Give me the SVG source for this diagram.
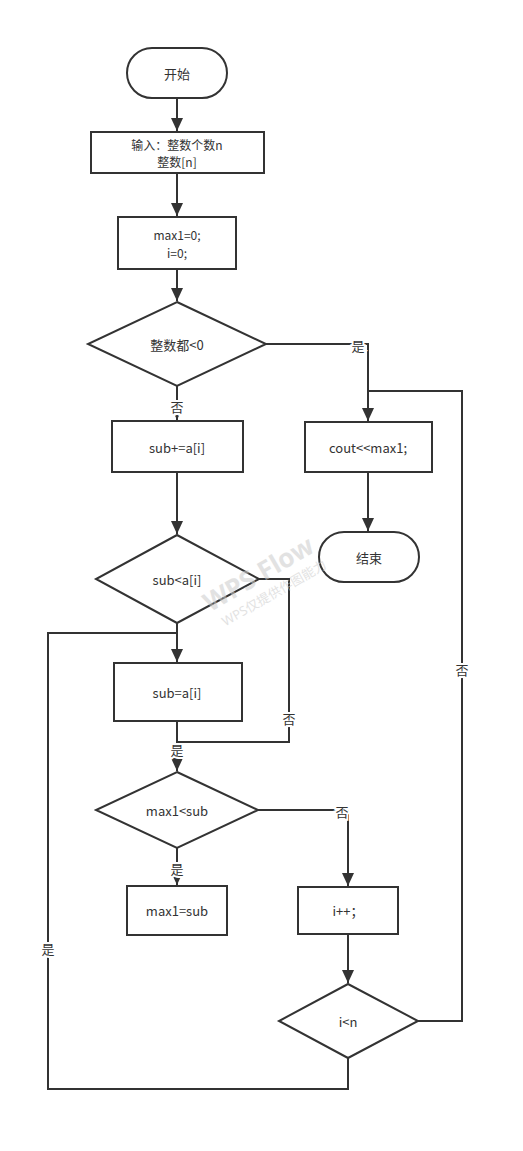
<svg xmlns="http://www.w3.org/2000/svg" width="523" height="1151" viewBox="0 0 523 1151">
<style>
.n{fill:#fff;stroke:#333;stroke-width:2}
.t{font-family:"Noto Sans CJK SC","Noto Sans",sans-serif;font-size:13px;fill:#333;text-anchor:middle;dominant-baseline:central}
.s{font-size:12px}
.e{fill:none;stroke:#333;stroke-width:2}
.l{font-family:"Noto Sans CJK SC",sans-serif;font-size:13px;fill:#333;text-anchor:middle;dominant-baseline:central;stroke:#fff;stroke-width:4;paint-order:stroke}
.w{font-family:"Noto Sans","Noto Sans CJK SC",sans-serif;fill:#ccc;opacity:0.55;text-anchor:middle}
</style>
<defs>
<marker id="a" markerUnits="userSpaceOnUse" markerWidth="12" markerHeight="14" refX="13" refY="6" orient="auto">
<path d="M0,0 L13,6 L0,12 Z" fill="#333"/>
</marker>
</defs>
<rect width="523" height="1151" fill="#fff"/>
<g id="connectors">
<path class="e" d="M177,98 V131" marker-end="url(#a)"/>
<path class="e" d="M177,173 V216" marker-end="url(#a)"/>
<path class="e" d="M177,269 V301" marker-end="url(#a)"/>
<path class="e" d="M266,344 H368 V421" marker-end="url(#a)"/>
<path class="e" d="M177,386 V420" marker-end="url(#a)"/>
<path class="e" d="M418,1021 H462 V391 H368"/>
<path class="e" d="M368,472 V531" marker-end="url(#a)"/>
<path class="e" d="M177,472 V534" marker-end="url(#a)"/>
<path class="e" d="M177,623 V662" marker-end="url(#a)"/>
<path class="e" d="M259,579 H289 V742 H177"/>
<path class="e" d="M177,721 V771" marker-end="url(#a)"/>
<path class="e" d="M177,848 V885" marker-end="url(#a)"/>
<path class="e" d="M258,810 H348 V886" marker-end="url(#a)"/>
<path class="e" d="M348,934 V983" marker-end="url(#a)"/>
<path class="e" d="M348,1058 V1089 H48 V633 H177"/>
<text class="l" x="358" y="345">是</text>
<text class="l" x="177" y="406">否</text>
<text class="l" x="462" y="669">否</text>
<text class="l" x="289" y="718">否</text>
<text class="l" x="177" y="749">是</text>
<text class="l" x="177" y="868">是</text>
<text class="l" x="342" y="811">否</text>
<text class="l" x="48" y="948">是</text>
</g>
<g id="start"><rect class="n" x="127" y="48" width="100" height="50" rx="25"/><text class="t" x="177" y="73">开始</text></g>
<g id="input"><rect class="n" x="91" y="132" width="173" height="41"/><text class="t s" x="177" y="144">输入：整数个数n</text><text class="t s" x="177" y="161">整数[n]</text></g>
<g id="init"><rect class="n" x="118" y="217" width="118" height="52"/><text class="t s" x="177" y="234">max1=0;</text><text class="t s" x="177" y="252">i=0;</text></g>
<g id="d1"><path class="n" d="M177,302 L266,344 L177,386 L88,344 Z"/><text class="t" x="177" y="344">整数都&lt;0</text></g>
<g id="subadd"><rect class="n" x="112" y="421" width="131" height="51"/><text class="t" x="177" y="447">sub+=a[i]</text></g>
<g id="cout"><rect class="n" x="305" y="422" width="127" height="50"/><text class="t" x="368" y="447">cout&lt;&lt;max1;</text></g>
<g id="end"><rect class="n" x="319" y="532" width="100" height="50" rx="25"/><text class="t" x="369" y="557">结束</text></g>
<g id="d2"><path class="n" d="M177,535 L259,579 L177,623 L96,579 Z"/><text class="t" x="177" y="579">sub&lt;a[i]</text></g>
<g id="subset"><rect class="n" x="114" y="663" width="128" height="58"/><text class="t" x="177" y="692">sub=a[i]</text></g>
<g id="d3"><path class="n" d="M177,772 L258,810 L177,848 L96,810 Z"/><text class="t" x="177" y="810">max1&lt;sub</text></g>
<g id="maxset"><rect class="n" x="127" y="886" width="100" height="49"/><text class="t" x="177" y="910">max1=sub</text></g>
<g id="inc"><rect class="n" x="298" y="887" width="100" height="47"/><text class="t" x="348" y="910">i++；</text></g>
<g id="d4"><path class="n" d="M348,984 L418,1021 L348,1058 L279,1021 Z"/><text class="t" x="348" y="1021">i&lt;n</text></g>
<g id="watermark" transform="rotate(-30 262 580)">
<text class="w" x="262" y="582" font-size="26" font-weight="bold">WPS Flow</text>
<text class="w" x="266" y="602" font-size="13">WPS仅提供作图能力</text>
</g>
</svg>
